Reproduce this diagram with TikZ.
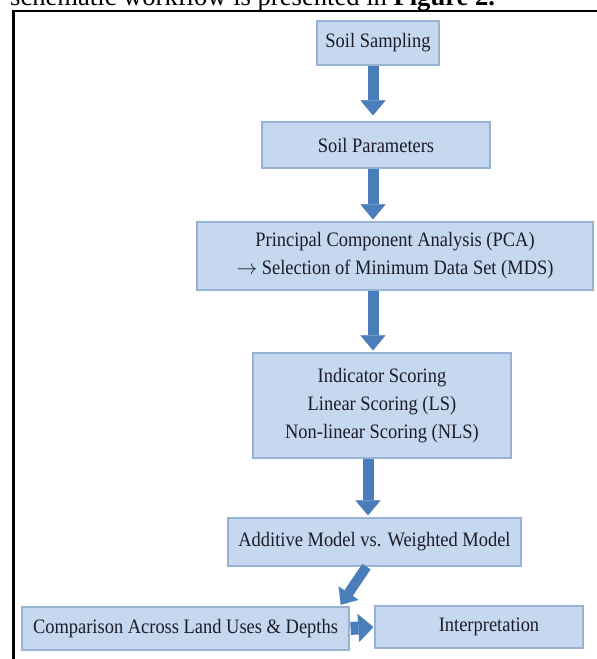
\documentclass[tikz,border=0pt]{standalone}
\usepackage{fontspec}
\setmainfont{Liberation Serif}
\newfontfamily\boxfont{Liberation Serif}[FakeStretch=0.9]
\usetikzlibrary{arrows.meta}
\definecolor{boxfill}{HTML}{C6D8F0}
\definecolor{boxline}{HTML}{98B2D4}
\definecolor{arrowblue}{HTML}{4A7EBB}
\definecolor{txt}{HTML}{1C1C28}
\begin{document}
\begin{tikzpicture}[x=1pt,y=1pt,
  box/.style={draw=boxline, line width=1.2pt, fill=boxfill, text=txt,
    font=\boxfont\fontsize{20.5}{28}\selectfont, align=center, inner sep=0pt},
  flow/.style={draw=arrowblue, line width=11pt,
    -{Triangle[width=25pt,length=15pt,line width=0.1pt]}, shorten >=2pt}
]
\useasboundingbox (0,0) rectangle (597,-659);
\begin{scope}
\clip (0,0) rectangle (597,-659);
\node[anchor=base west, inner sep=0pt, font=\fontsize{26.6}{30}\selectfont] (hdr) at (10,-5)
  {schematic workflow is presented in \textbf{Figure 2.}};
\end{scope}
\draw[line width=2.3pt] (13.5,-659) -- (13.5,-11) -- (597,-11);

\node[box, minimum width=122, minimum height=44] (ss)  at (378,-43) {Soil Sampling};
\node[box, minimum width=228, minimum height=46] (sp)  at (376,-145) {Soil Parameters};
\node[box, minimum width=396, minimum height=68] (pca) at (395,-256) {Principal Component Analysis (PCA)\\$\rightarrow$ Selection of Minimum Data Set (MDS)};
\node[box, minimum width=258, minimum height=105] (ind) at (382,-405.5) {Indicator Scoring\\Linear Scoring (LS)\\Non-linear Scoring (NLS)};
\node[box, minimum width=293, minimum height=48] (add) at (374.5,-542) {Additive Model vs. Weighted Model};
\node[box, minimum width=327, minimum height=43] (cmp) at (185.5,-628.5) {Comparison Across Land Uses \& Depths};
\node[box, minimum width=208, minimum height=42] (int) at (479,-627) {\hspace*{20pt}Interpretation};

\draw[flow, shorten >=6pt] ([xshift=-5pt]ss.south) -- ([xshift=-3pt]sp.north);
\draw[flow] ([xshift=-3pt]sp.south) -- ([xshift=-22pt]pca.north);
\draw[flow] ([xshift=-22pt]pca.south) -- ([xshift=-9pt]ind.north);
\draw[flow] ([xshift=-14pt]ind.south) -- ([xshift=-6.5pt]add.north);
\draw[flow, line width=10pt, -{Triangle[width=24pt,length=14pt,line width=0.1pt]}] ([xshift=-8pt]add.south) -- ([xshift=-10pt]cmp.north east);
\draw[flow, line width=13pt, shorten >=1pt, shorten <=1pt, -{Triangle[width=28pt,length=15pt,line width=0.1pt]}] (cmp.east) -- (int.west);
\end{tikzpicture}
\end{document}
